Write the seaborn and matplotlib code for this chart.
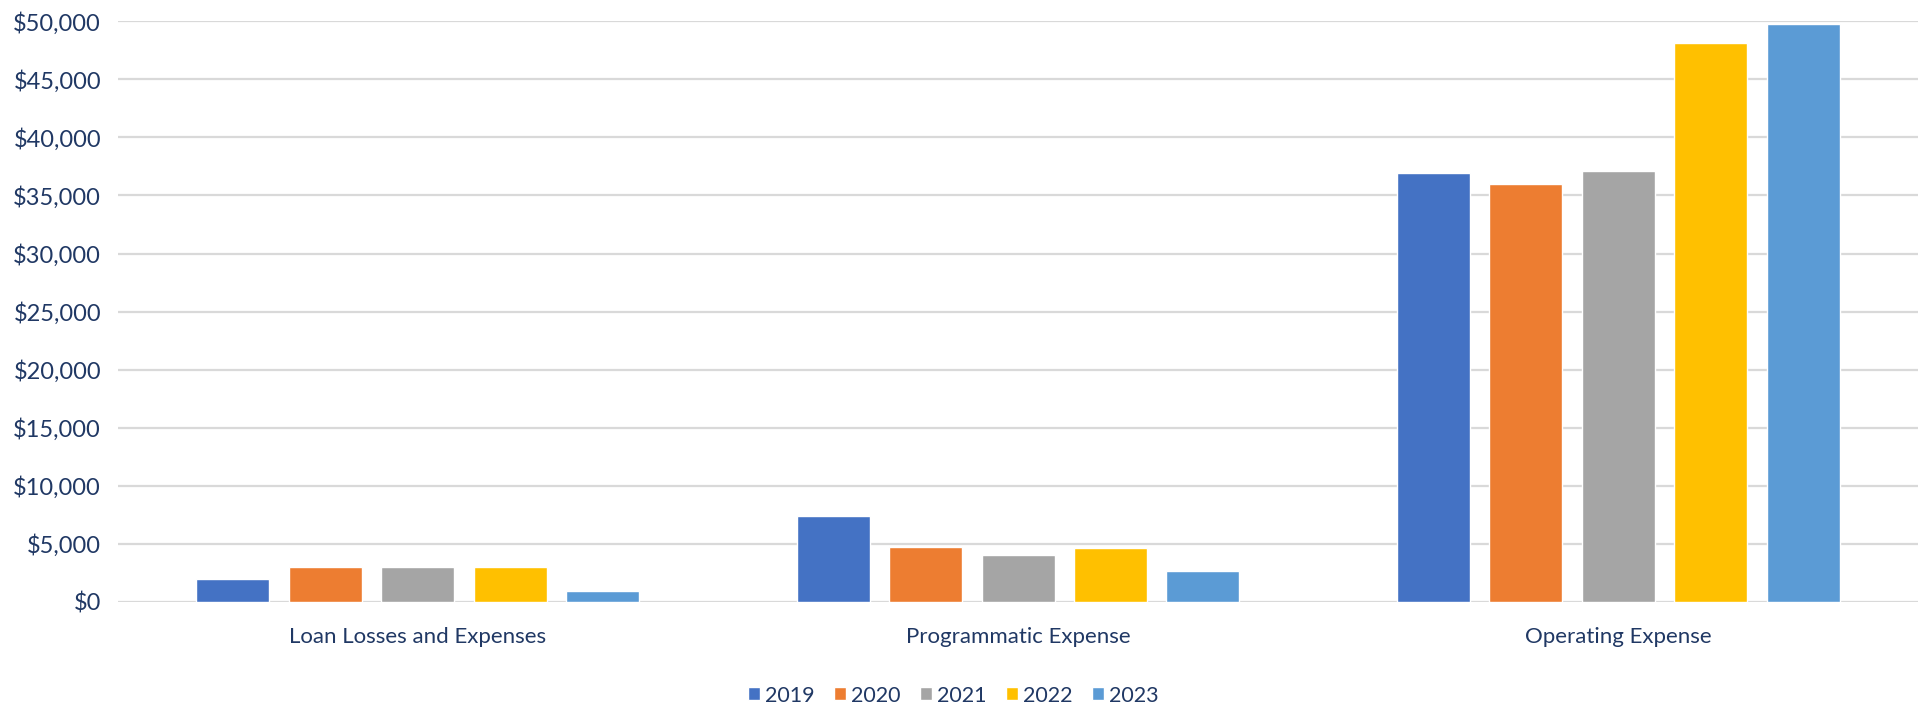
import numpy as np
import pandas as pd
import seaborn as sns
import matplotlib.pyplot as plt
from matplotlib.ticker import FuncFormatter

# Datos
categorias = ['Loan Losses and Expenses', 'Programmatic Expense', 'Operating Expense']
anios = ['2019', '2020', '2021', '2022', '2023']
v2019 = [2000, 7400, 36900]
v2020 = [3000, 4750, 36000]
v2021 = [3000, 4000, 37100]
v2022 = [3000, 4650, 48150]
v2023 = [950, 2650, 49750]
colores = ['#4472C4', '#ED7D31', '#A5A5A5', '#FFC000', '#5B9BD5']

valores = [v2019, v2020, v2021, v2022, v2023]
data = pd.DataFrame({
    'Categoria': categorias * len(anios),
    'Anio': [a for a in anios for _ in categorias],
    'Monto': np.concatenate(valores),
})

sns.set_style('white')
plt.rcParams['font.family'] = ['Lato', 'DejaVu Sans']
texto = '#203864'

fig = plt.figure(figsize=(19.3, 7.09), dpi=100)
ax = fig.add_axes([0.061, 0.151, 0.933, 0.819])

sns.barplot(data=data, x='Categoria', y='Monto', hue='Anio', palette=colores,
            width=0.77, gap=0.21, order=categorias, hue_order=anios, ax=ax,
            errorbar=None, saturation=1)

ax.set_ylim(0, 50000)
ax.set_xlim(-0.5, 2.5)
ax.set_yticks(np.arange(0, 50001, 5000))
ax.yaxis.set_major_formatter(FuncFormatter(lambda v, p: f'${v:,.0f}'))
ax.grid(axis='y', color='#D9D9D9', linewidth=1.6)
ax.set_axisbelow(True)
for s in ax.spines.values():
    s.set_visible(False)
ax.tick_params(axis='both', length=0, colors=texto)
ax.tick_params(axis='y', labelsize=17, pad=12)
ax.tick_params(axis='x', labelsize=16, pad=18)
ax.set_xlabel('')
ax.set_ylabel('')

ax.legend_.remove()
handles, labels = ax.get_legend_handles_labels()
fig.legend(handles, labels, loc='center', bbox_to_anchor=(0.494, 0.019), ncol=5,
           frameon=False, fontsize=15.5, labelcolor=texto, handlelength=0.55,
           handleheight=0.55, handletextpad=0.25, columnspacing=0.9)

plt.savefig('out.png', dpi=100)
